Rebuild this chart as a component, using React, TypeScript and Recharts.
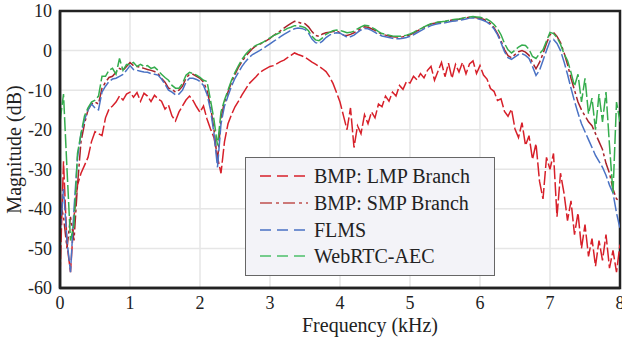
import React from 'react';
import { LineChart, Line, XAxis, YAxis, CartesianGrid, ReferenceArea, Label } from 'recharts';

// Frequency grid (kHz)
const freqKHz = [
  0, 0.05, 0.1, 0.15, 0.2, 0.25, 0.3, 0.35, 0.4, 0.45,
  0.5, 0.55, 0.6, 0.65, 0.7, 0.75, 0.8, 0.85, 0.9, 0.95,
  1, 1.05, 1.1, 1.15, 1.2, 1.25, 1.3, 1.35, 1.4, 1.45,
  1.5, 1.55, 1.6, 1.65, 1.7, 1.75, 1.8, 1.85, 1.9, 1.95,
  2, 2.05, 2.1, 2.15, 2.2, 2.25, 2.3, 2.35, 2.4, 2.45,
  2.5, 2.55, 2.6, 2.65, 2.7, 2.75, 2.8, 2.85, 2.9, 2.95,
  3, 3.05, 3.1, 3.15, 3.2, 3.25, 3.3, 3.35, 3.4, 3.45,
  3.5, 3.55, 3.6, 3.65, 3.7, 3.75, 3.8, 3.85, 3.9, 3.95,
  4, 4.05, 4.1, 4.15, 4.2, 4.25, 4.3, 4.35, 4.4, 4.45,
  4.5, 4.55, 4.6, 4.65, 4.7, 4.75, 4.8, 4.85, 4.9, 4.95,
  5, 5.05, 5.1, 5.15, 5.2, 5.25, 5.3, 5.35, 5.4, 5.45,
  5.5, 5.55, 5.6, 5.65, 5.7, 5.75, 5.8, 5.85, 5.9, 5.95,
  6, 6.05, 6.1, 6.15, 6.2, 6.25, 6.3, 6.35, 6.4, 6.45,
  6.5, 6.55, 6.6, 6.65, 6.7, 6.75, 6.8, 6.85, 6.9, 6.95,
  7, 7.05, 7.1, 7.15, 7.2, 7.25, 7.3, 7.35, 7.4, 7.45,
  7.5, 7.55, 7.6, 7.65, 7.7, 7.75, 7.8, 7.85, 7.9, 7.95,
  8,
];

// BMP: LMP Branch (dB)
const lmpBranch = [
  -57, -28, -49, -56, -42, -34, -31, -29, -27, -23,
  -20.5, -21, -21.5, -17, -14.8, -14, -13, -11.5, -12.5, -11,
  -10.5, -11.8, -10.6, -12.8, -10.8, -11.5, -12.9, -11.3, -12.2, -12.8,
  -14.8, -13.8, -16.5, -17.8, -15.5, -14, -12.5, -11.5, -12.6, -14.2,
  -15.6, -14, -17.3, -19.8, -22, -27, -31, -23, -18.5, -16.2,
  -14.2, -12.8, -11.2, -9.8, -8.4, -7.5, -6.6, -5.6, -5, -4.5,
  -4, -3.8, -3.3, -2.8, -2.4, -1.8, -1.2, -0.6, -1, -1.3,
  -1.7, -2.3, -2.9, -3.4, -4, -4.6, -5.3, -6.6, -8.3, -10.6,
  -13, -16.5, -20, -14.5, -24.5, -19, -21, -16.2, -18.5, -15.5,
  -17, -13.5, -14.2, -11.5, -12.8, -10.5, -11.5, -8.8, -9.8, -7.8,
  -8.2, -6.5, -7.4, -5.8, -6.9, -5, -4, -7.5, -5.2, -3,
  -6.6, -3.2, -7, -3.5, -5.4, -3, -5.9, -3.4, -2.6, -5.8,
  -3.8, -6.2, -7.2, -9.6, -10.3, -12.6, -12.2, -15.4, -16.6, -14.8,
  -19.8, -22, -18.2, -24, -21.5, -27.5, -23.5, -33, -37.5, -27,
  -30, -26, -42, -31, -36, -43, -38, -46.5, -41, -50,
  -44, -52, -47.5, -54.5, -48, -53, -46.5, -55, -50.5, -56,
  -49,
];

// BMP: SMP Branch (dB)
const smpBranch = [
  -38, -42, -50, -42, -48, -34, -23, -18.5, -15, -13.5,
  -13, -13.5, -9.5, -8, -6.8, -6.5, -5.5, -4.5, -5, -4,
  -3, -3.8, -4, -4.2, -4.5, -4.8, -5, -5.3, -5.8, -7,
  -8, -9.5, -9.8, -10.5, -10, -9, -7, -6, -6, -6.5,
  -7, -8, -10, -14, -20, -28, -17, -13, -10.5, -8,
  -6, -4.2, -2.8, -1.5, -0.5, 0.5, 1.2, 1.6, 2, 2.5,
  3.1, 3.8, 4.4, 5, 5.7, 6.3, 6.9, 7.4, 7.2, 6.9,
  6.8, 6, 4.8, 3.8, 3.6, 4.2, 4.5, 4.6, 4.8, 5,
  4.5, 3.9, 3.8, 4.1, 4.5, 5, 5.6, 6, 5.9, 5.5,
  5.1, 4.6, 4.1, 3.9, 3.7, 3.5, 3.4, 3.4, 3.5, 3.7,
  4, 4.4, 4.9, 5.4, 5.9, 6.3, 6.7, 6.9, 7.1, 7.2,
  7.3, 7.5, 7.7, 7.8, 7.9, 8.1, 8.3, 8.4, 8.5, 8.3,
  8.1, 7.9, 7.5, 6.8, 5.8, 4.3, 2.5, 0.2, -1.3, -1.8,
  -1, -0.3, 0, -0.4, -1.2, -3, -4.6, -3, -0.8, 1.8,
  4, 4.6, 3.6, 2, -0.5, -3.5, -7, -10, -13, -15,
  -16.5, -18, -19, -21, -23, -25, -28.5, -31, -35, -37.5,
  -38,
];

// FLMS (dB)
const flms = [
  -46, -35, -48, -56, -40, -27, -21, -17.5, -15, -13.5,
  -14.5, -15, -10.5, -9, -7.8, -7.2, -7, -6.5, -6, -5,
  -3.8, -4.8, -5, -5.2, -5.4, -5.5, -5.8, -6, -6.2, -7.2,
  -8.5, -10, -10.5, -11.2, -11, -10, -8, -7, -7, -7.3,
  -7.8, -8.8, -11, -15, -21, -29.5, -18.5, -14, -11.5, -9,
  -7, -5.5, -4, -2.8, -1.8, -1, -0.5, 0, 0.5, 1.1,
  1.7, 2.3, 2.9, 3.5, 4.1, 4.6, 5.1, 5.5, 5.7, 5.6,
  5.3, 4.4, 2.9, 2, 1.8, 2.4, 3.3, 3.9, 4.3, 4.5,
  4.4, 3.9, 3.4, 3.5, 3.9, 4.6, 5.2, 5.6, 5.5, 5.1,
  4.6, 4.1, 3.7, 3.5, 3.3, 3.1, 3, 3, 3.1, 3.3,
  3.6, 4, 4.5, 5, 5.5, 5.9, 6.3, 6.6, 6.8, 6.9,
  7, 7.2, 7.4, 7.5, 7.6, 7.8, 8, 8.2, 8.3, 8.1,
  7.9, 7.6, 7.2, 6.5, 5.5, 4, 2, -0.3, -1.8, -2.2,
  -1.6, -1, -0.8, -1.2, -2, -4, -6.3, -5, -2.5, 0,
  2.4, 2.8, 1.8, 0, -2.8, -6, -9.5, -12.8, -15.8, -18.5,
  -20.5, -22.5, -24.5, -26.5, -28, -29.5, -31.5, -34, -36, -41,
  -45,
];

// WebRTC-AEC (dB)
const webrtcAec = [
  -18, -11, -30, -48, -44, -26, -21, -16.5, -14.5, -13,
  -12.5, -11.5, -6.5, -6.5, -5, -4.5, -6, -2, -5, -3.5,
  -3.5, -3, -4, -3.5, -4, -3.8, -4.5, -4.2, -5, -6,
  -6.8, -7.5, -8.8, -9.5, -9.5, -8.3, -6.2, -5.5, -5.8, -6.2,
  -6.8, -7.5, -7.8, -12.5, -17.5, -24, -15.5, -12.5, -10, -7.5,
  -5.5, -3.8, -2.2, -1, 0, 0.8, 1.3, 1.7, 2.1, 2.7,
  3.2, 3.8, 4.2, 4.6, 5.1, 5.6, 5.9, 6.3, 6.3, 6.1,
  5.8, 5, 3.6, 2.7, 2.5, 3.2, 4.1, 4.6, 5, 5.2,
  5.1, 4.8, 4.5, 4.6, 4.9, 5.5, 6, 6.4, 6.3, 5.9,
  5.4, 4.8, 4.3, 4.1, 3.9, 3.7, 3.6, 3.6, 3.7, 3.9,
  4.2, 4.6, 5.1, 5.5, 6, 6.4, 6.8, 7, 7.2, 7.3,
  7.4, 7.6, 7.8, 7.9, 8, 8.2, 8.4, 8.5, 8.6, 8.5,
  8.4, 8.2, 7.9, 7.4, 6.6, 5.5, 4, 1.8, 0.2, -0.6,
  0.1, 0.9, 1.4, 1.3, 0.3, -1.5, -2, -0.8, 0.2, 2.4,
  4.6, 4.3, 3.3, 1.6, -0.8, -2.5, -5.5, -9, -6, -13,
  -7, -16, -12, -20, -11, -18, -10.5, -24, -36, -13,
  -18,
];

const xTicks = [0, 1, 2, 3, 4, 5, 6, 7, 8];
const yTicks = [-60, -50, -40, -30, -20, -10, 0, 10];

const seriesNames = ['BMP: LMP Branch', 'BMP: SMP Branch', 'FLMS', 'WebRTC-AEC'];
const seriesKeys = ['lmp', 'smp', 'flms', 'webrtc'];
const seriesColors = ['#d7202a', '#a9232b', '#4a72c4', '#35ad4e'];
const legendColors = ['#d7202a', '#c0504d', '#4a72c4', '#4cc06a'];
const seriesDash = ['14 3', '14 3 3 3', '14 3', '14 3'];
const legendDash = ['11 6', '12 4 3 4', '11 6', '11 6'];

const data = freqKHz.map((f, i) => ({
  f,
  lmp: lmpBranch[i],
  smp: smpBranch[i],
  flms: flms[i],
  webrtc: webrtcAec[i],
}));

const FONT = '"Liberation Serif", "Times New Roman", Times, serif';
const TEXT = '#222';

function LegendBox() {
  return (
    <div
      style={{
        position: 'absolute',
        left: 245,
        top: 157,
        width: 250,
        height: 119,
        boxSizing: 'border-box',
        border: '1.5px solid #666',
        background: '#f3f3f8',
        paddingTop: 5,
        fontFamily: FONT,
        fontSize: 20,
        color: TEXT,
      }}
    >
      {seriesNames.map((name, i) => (
        <div key={name} style={{ height: 26.7, display: 'flex', alignItems: 'center' }}>
          <svg width={68} height={10} style={{ flex: 'none' }}>
            <line x1={14} y1={5} x2={62} y2={5} stroke={legendColors[i]} strokeWidth={1.6} strokeDasharray={legendDash[i]} />
          </svg>
          <span style={{ whiteSpace: 'nowrap', lineHeight: '20px' }}>{name}</span>
        </div>
      ))}
    </div>
  );
}

function XLabel(props: any) {
  const vb = props.viewBox || { x: 60, y: 288, width: 560, height: 53 };
  return (
    <text
      x={vb.x + vb.width / 2 + 30}
      y={vb.y + vb.height - 9}
      textAnchor="middle"
      fontSize={20}
      fill={TEXT}
      fontFamily={FONT}
    >
      Frequency (kHz)
    </text>
  );
}

export default function App() {
  return (
    <div style={{ position: 'absolute', left: 0, top: 0, width: 622, height: 341, background: '#fff' }}>
      <LineChart
        width={622}
        height={341}
        data={data}
        margin={{ top: 11, right: 2, bottom: 0, left: 0 }}
      >
        <CartesianGrid stroke="#e6e6e6" strokeWidth={1.5} />
        <XAxis
          dataKey="f"
          type="number"
          domain={[0, 8]}
          ticks={xTicks}
          interval={0}
          allowDataOverflow
          height={53}
          tickLine={false}
          axisLine={{ stroke: TEXT, strokeWidth: 2.5 }}
          tick={{ fontSize: 18, fill: TEXT, fontFamily: FONT }}
          tickMargin={2}
        >
          <Label position="insideBottom" content={<XLabel />} />
        </XAxis>
        <YAxis
          type="number"
          domain={[-60, 10]}
          ticks={yTicks}
          interval={0}
          allowDataOverflow
          width={60}
          tickLine={false}
          axisLine={{ stroke: TEXT, strokeWidth: 2.5 }}
          tick={{ fontSize: 18, fill: TEXT, fontFamily: FONT }}
          tickMargin={2}
        >
          <Label
            value="Magnitude (dB)"
            angle={-90}
            position="insideLeft"
            offset={14}
            style={{ fontSize: 20, fill: TEXT, fontFamily: FONT, textAnchor: 'middle' }}
          />
        </YAxis>
        <ReferenceArea
          x1={0}
          x2={8}
          y1={-60}
          y2={10}
          fill="none"
          stroke={TEXT}
          strokeWidth={2.5}
          ifOverflow="visible"
        />
        {seriesKeys.map((k, i) => (
          <Line
            key={k}
            dataKey={k}
            name={seriesNames[i]}
            type="linear"
            stroke={seriesColors[i]}
            strokeWidth={1.5}
            strokeDasharray={seriesDash[i]}
            dot={false}
            activeDot={false}
            isAnimationActive={false}
          />
        ))}
      </LineChart>
      <LegendBox />
    </div>
  );
}
